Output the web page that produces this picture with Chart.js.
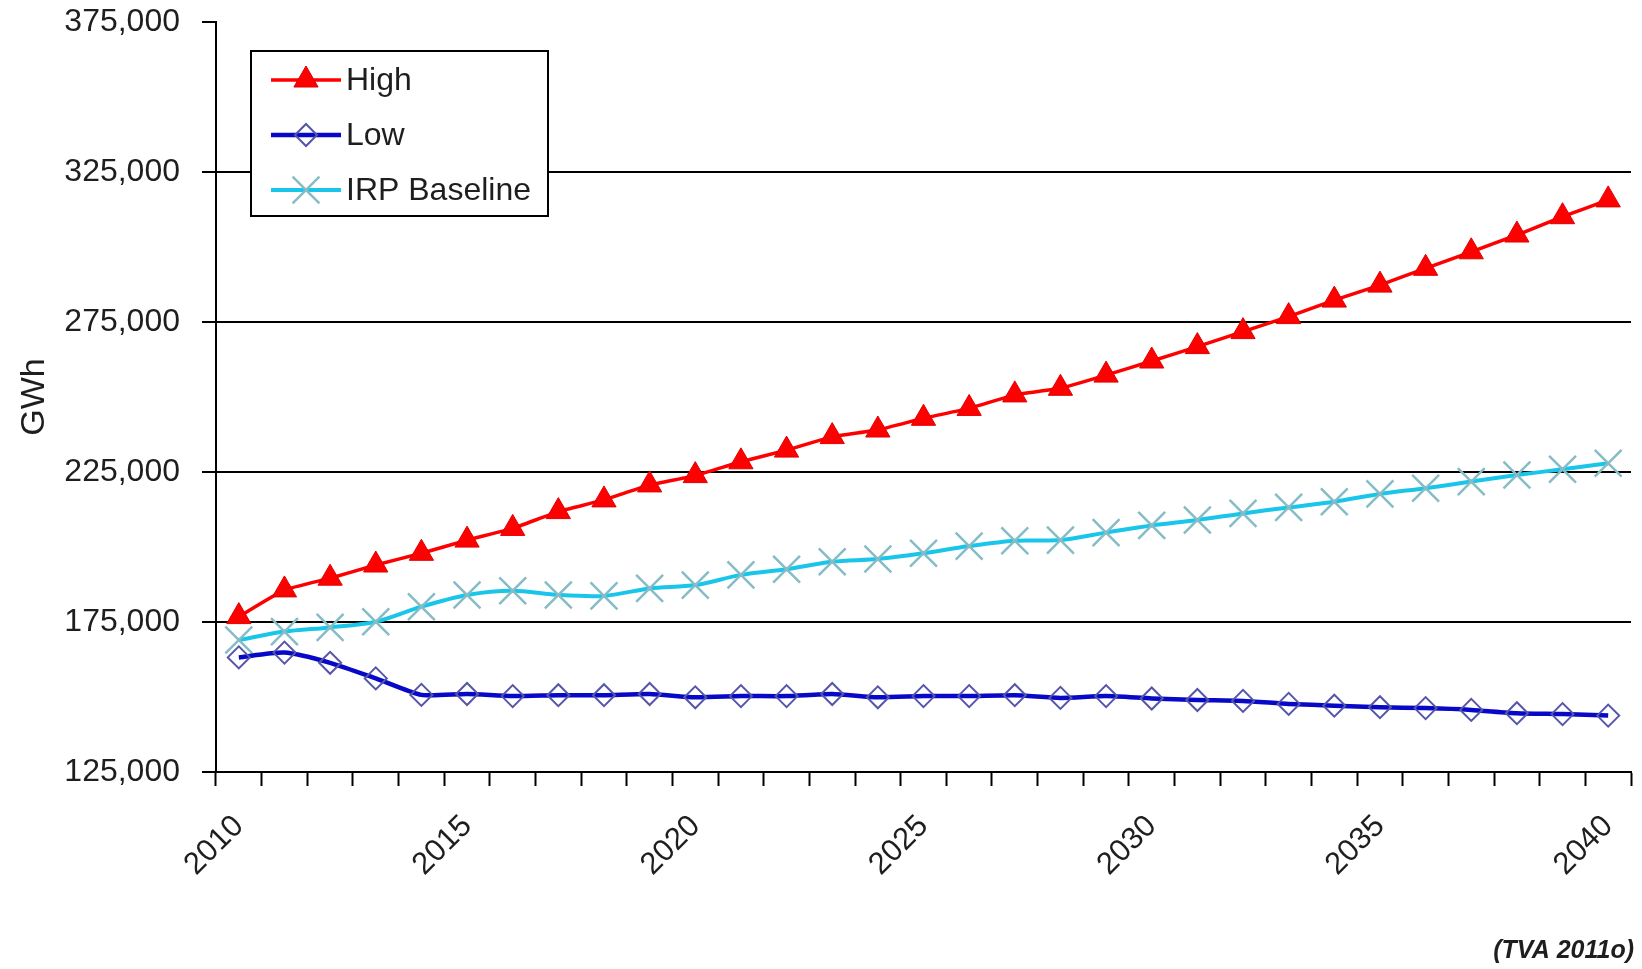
<!DOCTYPE html>
<html>
<head>
<meta charset="utf-8">
<title>TVA energy demand forecast</title>
<script src="https://cdn.jsdelivr.net/npm/chart.js@4.4.1/dist/chart.umd.min.js"></script>
<style>
  html, body { margin: 0; padding: 0; background: #ffffff; }
  #wrap { width: 1642px; height: 969px; }
</style>
</head>
<body>
<div id="wrap"><canvas id="chart" width="1642" height="969"></canvas></div>
<script>
// Annual energy forecast, GWh
const years = ['2010','2011','2012','2013','2014','2015','2016','2017','2018','2019','2020',
  '2021','2022','2023','2024','2025','2026','2027','2028','2029','2030',
  '2031','2032','2033','2034','2035','2036','2037','2038','2039','2040'];

const highSeries = [176800, 185700, 189600, 194000, 197900, 202300, 206200, 211800, 215700, 220700, 223800,
  228400, 232300, 236800, 239000, 242900, 246200, 250700, 252900, 257300, 262000,
  266800, 271800, 276800, 282300, 287300, 292900, 298400, 304000, 310100, 315700];

const lowSeries = [163200, 164800, 161400, 156200, 150700, 151000, 150300, 150600, 150600, 151000, 149900,
  150300, 150300, 151000, 149900, 150300, 150300, 150600, 149700, 150300, 149500,
  149000, 148700, 147700, 147100, 146600, 146300, 145700, 144600, 144300, 143800];

const baselineSeries = [169000, 171800, 173200, 175100, 180100, 184000, 185400, 184000, 183700, 186200, 187300,
  190700, 192600, 195100, 196000, 197900, 200300, 202100, 202300, 204800, 207200,
  209000, 211200, 213200, 215100, 217700, 219600, 221800, 224000, 225900, 227900];

const seriesNames = ['High', 'Low', 'IRP Baseline'];
const yTicks = { min: 125000, max: 375000, step: 50000 };
const labelEvery = 5;
const sourceNote = '(TVA 2011o)';

const FONT = "'Liberation Sans', Arial, sans-serif";
const TEXT = '#1e1e1e';

// Boxed legend in the upper left of the plot, plus the source note
const boxedLegend = {
  id: 'boxedLegend',
  afterDraw(chart) {
    const { ctx, chartArea } = chart;
    const x0 = chartArea.left + 35, y0 = chartArea.top + 29, w = 297, h = 165;
    ctx.save();
    ctx.fillStyle = '#ffffff';
    ctx.fillRect(x0, y0, w, h);
    ctx.lineWidth = 2;
    ctx.strokeStyle = '#000000';
    ctx.strokeRect(x0, y0, w, h);
    chart.data.datasets.forEach((ds, i) => {
      const cy = y0 + 29 + i * 55;
      const lx0 = x0 + 20, lx1 = x0 + 90;
      ctx.beginPath();
      ctx.strokeStyle = ds.borderColor;
      ctx.lineWidth = ds.borderWidth;
      ctx.moveTo(lx0, cy);
      ctx.lineTo(lx1, cy);
      ctx.stroke();
      ctx.fillStyle = ds.pointBackgroundColor;
      ctx.strokeStyle = ds.pointBorderColor;
      ctx.lineWidth = ds.pointBorderWidth;
      Chart.helpers.drawPoint(ctx, {
        pointStyle: ds.pointStyle, radius: ds.pointRadius,
        borderWidth: ds.pointBorderWidth, rotation: 0
      }, (lx0 + lx1) / 2, cy);
      ctx.fillStyle = TEXT;
      ctx.font = '32px ' + FONT;
      ctx.textAlign = 'left';
      ctx.textBaseline = 'middle';
      ctx.fillText(ds.label, lx1 + 5, cy + 1);
    });
    ctx.font = 'italic bold 25px ' + FONT;
    ctx.fillStyle = TEXT;
    ctx.textAlign = 'right';
    ctx.textBaseline = 'middle';
    ctx.fillText(sourceNote, chart.width - 8, chart.height - 18);
    ctx.restore();
  }
};

new Chart(document.getElementById('chart'), {
  type: 'line',
  data: {
    labels: years,
    datasets: [
      {
        label: seriesNames[0], data: highSeries,
        borderColor: '#ff0000', borderWidth: 3.5, tension: 0.1,
        pointStyle: 'triangle', pointRadius: 14, pointHoverRadius: 14,
        pointBackgroundColor: '#ff0000', pointBorderColor: '#e00000', pointBorderWidth: 1
      },
      {
        label: seriesNames[1], data: lowSeries,
        borderColor: '#0808c8', borderWidth: 4.5, tension: 0.2,
        pointStyle: 'rectRot', pointRadius: 11, pointHoverRadius: 11,
        pointBackgroundColor: 'rgba(0,0,0,0)', pointBorderColor: '#5555aa', pointBorderWidth: 2
      },
      {
        label: seriesNames[2], data: baselineSeries,
        borderColor: '#19c6ea', borderWidth: 4, tension: 0.3,
        pointStyle: 'crossRot', pointRadius: 19, pointHoverRadius: 19,
        pointBackgroundColor: 'rgba(0,0,0,0)', pointBorderColor: '#86bcc6', pointBorderWidth: 2.5
      }
    ]
  },
  options: {
    responsive: false,
    devicePixelRatio: 1,
    animation: false,
    events: [],
    layout: { autoPadding: false, padding: { left: 0, top: 22, right: 11, bottom: 0 } },
    plugins: {
      legend: { display: false },
      title: { display: false },
      tooltip: { enabled: false }
    },
    scales: {
      x: {
        type: 'category',
        offset: true,
        grid: {
          offset: true, drawOnChartArea: false, drawTicks: true,
          tickLength: 14, tickColor: '#000000', tickWidth: 2
        },
        border: { display: true, color: '#000000', width: 2 },
        ticks: {
          autoSkip: false, minRotation: 45, maxRotation: 45, padding: 22,
          color: TEXT, font: { family: FONT, size: 31 },
          callback: function (value, index) {
            const yr = Number(years[index]);
            return yr % labelEvery === 0 ? years[index] : '';
          }
        },
        afterFit: function (scale) {
          scale.height = 969 - 772;
          scale.paddingLeft = 0;
          scale.paddingRight = 0;
        }
      },
      y: {
        min: yTicks.min, max: yTicks.max,
        grid: {
          drawTicks: true, tickLength: 14, lineWidth: 2, tickWidth: 2, tickColor: '#000000',
          color: (c) => (c.tick && (c.tick.value === yTicks.max || c.tick.value === yTicks.min)) ? 'rgba(0,0,0,0)' : '#000000'
        },
        border: { display: true, color: '#000000', width: 2 },
        ticks: {
          stepSize: yTicks.step, padding: 22, color: TEXT,
          font: { family: FONT, size: 32 },
          callback: (v) => Number(v).toLocaleString('en-US')
        },
        title: {
          display: true, text: 'GWh', color: TEXT,
          font: { family: FONT, size: 34 }, padding: { top: 14, bottom: 0 }
        },
        afterFit: function (scale) {
          scale.width = 216;
          scale.paddingTop = 0;
          scale.paddingBottom = 0;
        }
      }
    }
  },
  plugins: [boxedLegend]
});
</script>
</body>
</html>
